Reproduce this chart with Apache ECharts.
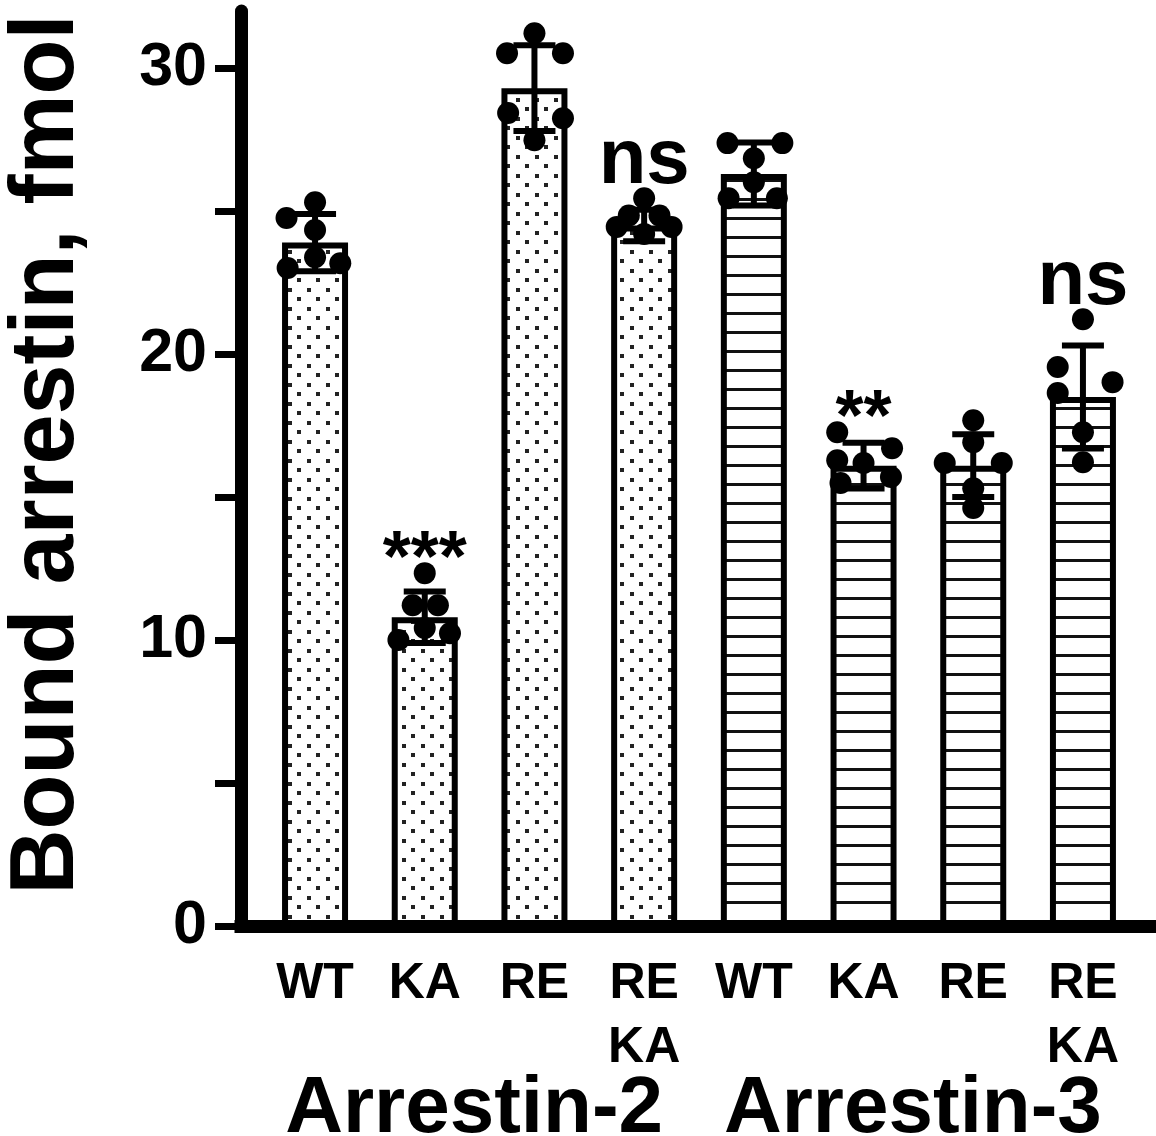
<!DOCTYPE html>
<html><head><meta charset="utf-8">
<script src="https://cdn.jsdelivr.net/npm/echarts@6/dist/echarts.min.js"></script>
<style>html,body{margin:0;padding:0;background:#fff}#c{width:1156px;height:1136px}</style>
</head><body><div id="c"></div>
<script>
// ---- data ----
const categories = ['WT', 'KA', 'RE', 'RE\nKA', 'WT', 'KA', 'RE', 'RE\nKA'];
const groups = ['Arrestin-2', 'Arrestin-3'];
const groupCenters = [1.45, 5.45];
const groupOfBar = [0, 0, 0, 0, 1, 1, 1, 1];
const means = [23.9, 10.8, 29.3, 24.5, 26.3, 16.1, 16.1, 18.5];
const sds = [1.0, 0.9, 1.5, 0.55, 1.1, 0.8, 1.1, 1.8];
const points = [
  [25.31, 24.76, 24.34, 23.39, 23.01, 23.18],
  [12.34, 11.22, 11.22, 10.42, 10.00, 10.24],
  [31.22, 30.52, 30.52, 28.43, 28.25, 27.48],
  [25.45, 24.85, 24.85, 24.45, 24.45, 24.20],
  [27.38, 27.38, 26.85, 26.01, 25.45, 25.45],
  [17.27, 16.71, 16.29, 16.19, 15.49, 15.70],
  [17.69, 16.92, 16.19, 16.19, 15.31, 14.62],
  [21.22, 19.55, 19.02, 18.64, 17.27, 16.22]
];
const jitter = [
  [0, -0.26, 0, 0, -0.25, 0.23],
  [0, -0.11, 0.12, 0, -0.24, 0.23],
  [0, -0.25, 0.26, -0.24, 0.26, 0],
  [0, -0.14, 0.14, -0.25, 0.25, 0],
  [-0.24, 0.26, 0, 0, -0.23, 0.21],
  [-0.24, 0.26, -0.24, 0, -0.21, 0.25],
  [0, 0, -0.26, 0.26, 0, 0],
  [0, -0.23, 0.27, -0.23, 0, 0]
];
const sigLabels = ['', '***', '', 'ns', '', '**', '', 'ns'];
const yTicks = [0, 5, 10, 15, 20, 25, 30];
const yLabels = [0, 10, 20, 30];
const yMin = 0, yMax = 32;
const xMin = -0.675, xMax = 7.666;

// ---- patterns ----
function dotPattern() {
  const c = document.createElement('canvas'); c.width = 19; c.height = 19;
  const g = c.getContext('2d');
  g.fillStyle = '#fff'; g.fillRect(0, 0, 19, 19);
  g.fillStyle = '#222'; g.fillRect(3, 3, 4, 4); g.fillRect(12, 12, 4, 4);
  return c;
}
function linePattern() {
  const c = document.createElement('canvas'); c.width = 19; c.height = 19;
  const g = c.getContext('2d');
  g.fillStyle = '#fff'; g.fillRect(0, 0, 19, 19);
  g.fillStyle = '#111'; g.fillRect(0, 8, 19, 3);
  return c;
}
const fills = [
  { image: dotPattern(), repeat: 'repeat' },
  { image: linePattern(), repeat: 'repeat' }
];

const FONT = '"Liberation Sans", Arial, Helvetica, sans-serif';
const chart = echarts.init(document.getElementById('c'), null, { renderer: 'canvas' });

const barData = means.map((m, i) => ({
  value: [i, m],
  itemStyle: { color: fills[groupOfBar[i]] }
}));
const errData = means.map((m, i) => [i, m, sds[i]]);
const dotData = [];
points.forEach((arr, i) => arr.forEach((v, j) => dotData.push([i + jitter[i][j], v])));
const sigData = [];
sigLabels.forEach((s, i) => {
  if (!s) return;
  const isStar = s.indexOf('*') >= 0;
  sigData.push({
    value: [i, Math.max.apply(null, points[i])],
    label: {
      formatter: s,
      fontSize: isStar ? 72 : 78,
      distance: isStar ? -24 : -2
    }
  });
});

chart.setOption({
  animation: false,
  backgroundColor: '#fff',
  grid: { left: 241, right: 0, top: 11, bottom: 210, outerBoundsMode: 'none', containLabel: false },
  xAxis: [
    {
      type: 'value', min: xMin, max: xMax, position: 'bottom',
      axisLine: { show: true, onZero: false, lineStyle: { color: '#000', width: 13, cap: 'square' } },
      axisTick: { show: false },
      splitLine: { show: false },
      axisLabel: {
        customValues: categories.map((c, i) => i),
        formatter: v => categories[Math.round(v)],
        fontFamily: FONT, fontSize: 50, fontWeight: 'bold', color: '#000',
        lineHeight: 64, margin: 26, hideOverlap: false
      }
    },
    {
      type: 'value', min: xMin, max: xMax, position: 'bottom', offset: 137,
      axisLine: { show: false }, axisTick: { show: false }, splitLine: { show: false },
      axisLabel: {
        customValues: groupCenters,
        formatter: v => groups[groupCenters.indexOf(v)],
        fontFamily: FONT, fontSize: 80, fontWeight: 'bold', color: '#000', margin: 7
      }
    }
  ],
  yAxis: {
    type: 'value', min: yMin, max: yMax,
    axisLine: { show: true, onZero: false, lineStyle: { color: '#000', width: 13 } },
    axisTick: { show: true, customValues: yTicks, length: 26, lineStyle: { color: '#000', width: 7 } },
    axisLabel: {
      customValues: yLabels,
      fontFamily: FONT, fontSize: 61, fontWeight: 'bold', color: '#000', margin: 34
    },
    splitLine: { show: false },
    name: 'Bound arrestin, fmol', nameLocation: 'middle', nameGap: 148, nameRotate: 90,
    nameTextStyle: { fontFamily: FONT, fontSize: 90, fontWeight: 'bold', color: '#000', padding: [0, 0, 0, 28] }
  },
  series: [
    {
      type: 'bar', data: barData, barWidth: 66, z: 2,
      itemStyle: { borderColor: '#000', borderWidth: 6, opacity: 1 }
    },
    {
      type: 'custom', z: 3, data: errData, encode: { x: 0, y: 1 },
      renderItem: (params, api) => {
        const x = api.value(0), m = api.value(1), s = api.value(2);
        const t = api.coord([x, m + s]);
        const b = api.coord([x, m - s]);
        const half = 21;
        const st = { stroke: '#000', lineWidth: 6 };
        return {
          type: 'group', children: [
            { type: 'line', shape: { x1: t[0], y1: t[1], x2: b[0], y2: b[1] }, style: st },
            { type: 'line', shape: { x1: t[0] - half, y1: t[1], x2: t[0] + half, y2: t[1] }, style: st },
            { type: 'line', shape: { x1: b[0] - half, y1: b[1], x2: b[0] + half, y2: b[1] }, style: st }
          ]
        };
      }
    },
    {
      type: 'scatter', z: 4, data: dotData, symbol: 'circle', symbolSize: 22,
      itemStyle: { color: '#000', opacity: 1 }
    },
    {
      type: 'scatter', z: 5, data: sigData, symbolSize: 0,
      itemStyle: { opacity: 1 },
      label: { show: true, position: 'top', fontFamily: FONT, fontWeight: 'bold', color: '#000', opacity: 1 }
    }
  ]
});
</script></body></html>
